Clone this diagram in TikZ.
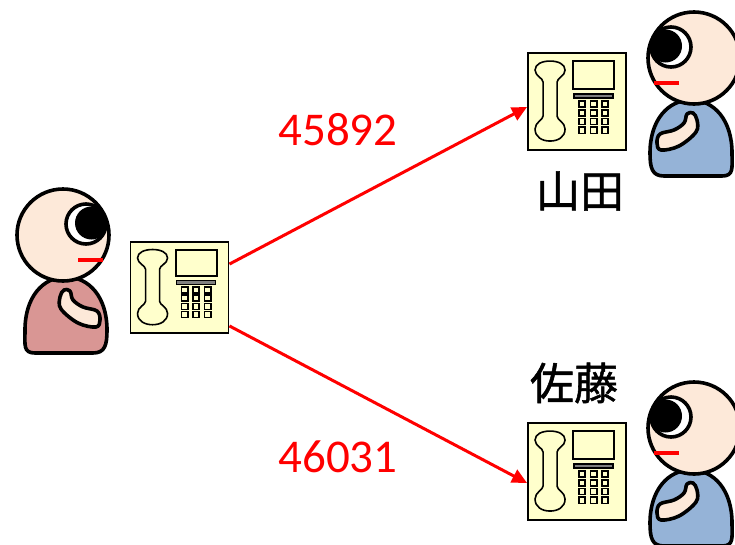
\documentclass[tikz,border=0pt]{standalone}
\usepackage{fontspec}
\usetikzlibrary{arrows.meta,calc}
\newfontfamily\numfont{Carlito}
\newfontfamily\cjk[FakeBold=1.2]{Noto Sans CJK JP}
\definecolor{skin}{HTML}{FDE9D9}
\definecolor{shirtpink}{HTML}{D99694}
\definecolor{shirtblue}{HTML}{95B3D7}
\definecolor{phoneyellow}{HTML}{FFFFCC}
\definecolor{bargray}{HTML}{7F7F7F}
\tikzset{
  outline/.style={draw=black, line width=3.6pt, line join=round},
  phonebox/.style={draw=black, line width=1.9pt, fill=phoneyellow,
    minimum width=98pt, minimum height=97pt, inner sep=0pt},
  numlabel/.style={text=red, font=\numfont\fontsize{47}{50}\selectfont, inner sep=0pt},
  namelabel/.style={text=black, font=\cjk\fontsize{44}{48}\selectfont, inner sep=0pt},
  callarrow/.style={draw=red, line width=3pt, -{Triangle[length=15pt,width=14pt]}},
  % a person seen from the side, head centre at the origin, facing +x
  pics/person/.style={code={
    \draw[outline, fill=#1] (-28,118) .. controls (-40,118) and (-38,110) .. (-38,95)
      .. controls (-38,62) and (-20,42) .. (3,42)
      .. controls (26,42) and (44,62) .. (44,95)
      .. controls (44,110) and (42,118) .. (30,118) -- cycle;
    \draw[outline, fill=skin] (0,0) circle (46);
    \draw[outline, fill=white] (23,-11) circle (20);
    \fill[black] (28.5,-12) circle (16.5);
    \draw[red, line width=4pt] (15,25) -- (40,25);
    \draw[outline, fill=skin] plot[smooth cycle, tension=0.6] coordinates
      {(1,55) (7,56) (10,65) (20,72) (34,76) (37,85) (33,92) (15,88) (-2,74) (-3,62)};
  }},
  % handset, screen and keypad of a desk phone, origin at its top left corner
  pics/phoneface/.style={code={
    \draw[line width=1.6pt, fill=phoneyellow] (16,30) -- (16,64)
      .. controls (16,68) and (8,70) .. (8,77)
      .. controls (8,85) and (15,89) .. (23,89)
      .. controls (31,89) and (38,85) .. (38,77)
      .. controls (38,70) and (30,68) .. (30,64) -- (30,30)
      .. controls (30,26) and (38,24) .. (38,18)
      .. controls (38,12) and (31,9) .. (23,9)
      .. controls (15,9) and (8,12) .. (8,18)
      .. controls (8,24) and (16,26) .. (16,30) -- cycle;
    \draw[line width=2pt, fill=phoneyellow] (46,9) rectangle (87,37);
    \draw[line width=1.2pt, fill=bargray] (47,42) rectangle (86,46);
    \foreach \c in {0,1,2}{
      \foreach \r in {0,1,2,3}{
        \draw[line width=1.6pt, fill=phoneyellow]
          (52+11.5*\c,49+8.7*\r) rectangle ++(6.2,6.2);
      }
    }
  }}
}
\begin{document}
\begin{tikzpicture}[x=1pt,y=-1pt]
  \useasboundingbox (0,0) rectangle (735,544);

  % caller on the left
  \pic at (63,235) {person=shirtpink};

  % phones
  \node[phonebox, minimum height=91pt] (ph0) at (179.5,287.5) {};
  \pic[yscale=0.94] at (ph0.north west) {phoneface};
  \node[phonebox] (ph1) at (577,101.5) {};
  \pic at (ph1.north west) {phoneface};
  \node[phonebox] (ph2) at (577,471.5) {};
  \pic at (ph2.north west) {phoneface};

  % the two people being called
  \pic[xscale=-1] at (694,58) {person=shirtblue};
  \pic[xscale=-1] at (694,428) {person=shirtblue};

  % names
  \node[namelabel] (yamada) at (580,191) {山田};
  \node[namelabel] (sato) at (574,383) {佐藤};

  % calls with their extension numbers
  \draw[callarrow] ($(ph0.north east)+(0,23)$) -- ($(ph1.west)+(0,5.5)$);
  \draw[callarrow] ($(ph0.south east)+(0,-8)$) -- ($(ph2.west)+(0,11.5)$);
  \node[numlabel] (num1) at (338,130) {45892};
  \node[numlabel] (num2) at (338,457) {46031};
\end{tikzpicture}
\end{document}
